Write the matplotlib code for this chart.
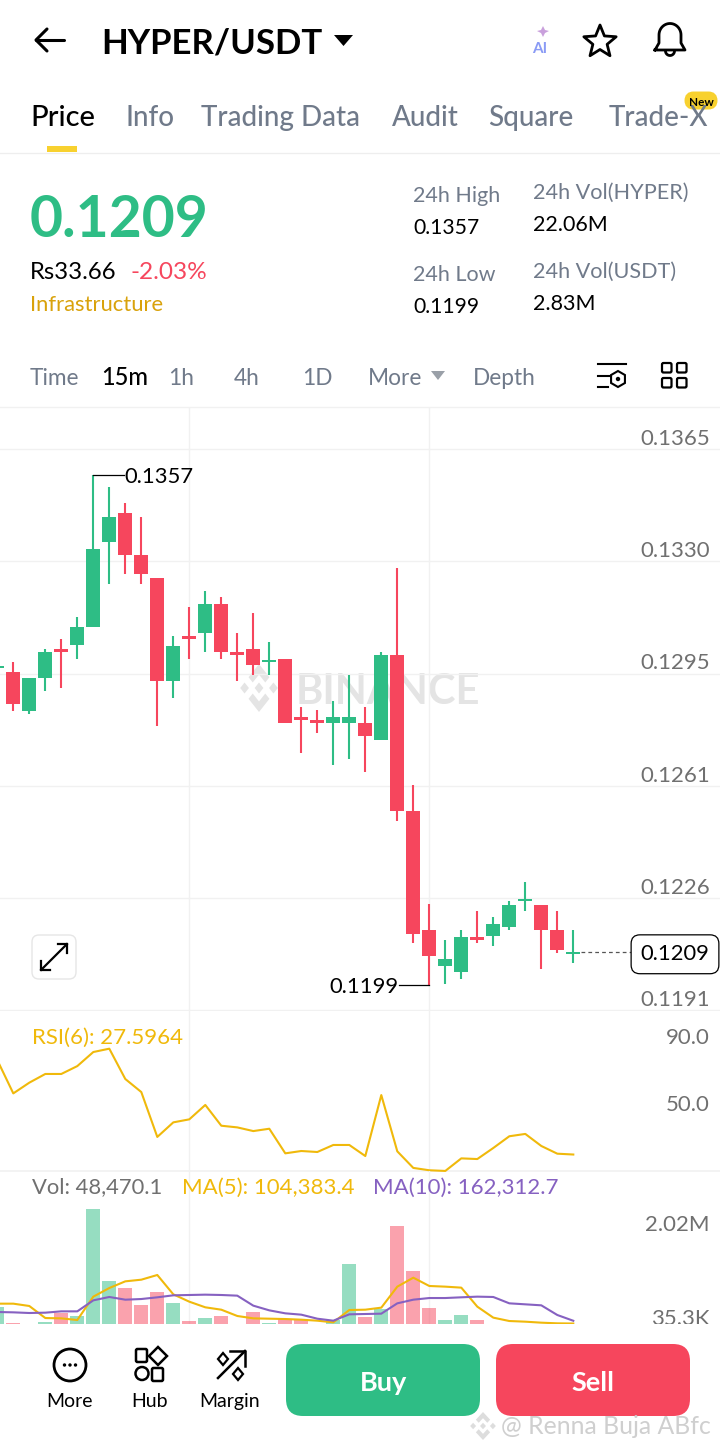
"""Rebuild of a HYPER/USDT mobile trading screen: candles, RSI and volume panels."""

import numpy as np
import matplotlib
matplotlib.use("Agg")
import matplotlib.pyplot as plt
from matplotlib.patches import Circle, FancyBboxPatch, Polygon, Rectangle

plt.rcParams["font.family"] = ["Lato", "DejaVu Sans"]

GREEN = "#2EBD85"
RED = "#F6465D"
YELLOW = "#F0B90B"
PURPLE = "#8661C1"
GRAY = "#707070"
TAB_GRAY = "#707A8A"
GRID = "#F1F1F1"

# candles, 15m
opens = [0.12971, 0.12959, 0.12839, 0.12940, 0.13030, 0.13041, 0.13099, 0.13361, 0.13450,
         0.13321, 0.13250, 0.12930, 0.13071, 0.13081, 0.13170, 0.13020, 0.13030, 0.12991,
         0.13000, 0.12820, 0.12810, 0.12800, 0.12800, 0.12800, 0.12749, 0.13011, 0.12529,
         0.12159, 0.12049, 0.12028, 0.12138, 0.12139, 0.12169, 0.12248, 0.12238, 0.12159,
         0.12086]
highs = [0.12984, 0.12990, 0.12940, 0.13031, 0.13060, 0.13130, 0.13570, 0.13531, 0.13482,
         0.13440, 0.13250, 0.13071, 0.13160, 0.13210, 0.13190, 0.13080, 0.13141, 0.13051,
         0.13000, 0.12851, 0.12840, 0.12870, 0.12950, 0.12851, 0.13020, 0.13280, 0.12609,
         0.12239, 0.12128, 0.12159, 0.12218, 0.12199, 0.12248, 0.12308, 0.12238, 0.12218,
         0.12159]
lows = [0.12965, 0.12839, 0.12829, 0.12900, 0.12910, 0.13000, 0.13099, 0.13231, 0.13261,
        0.13231, 0.12791, 0.12879, 0.13000, 0.13020, 0.13000, 0.12930, 0.12950, 0.12950,
        0.12800, 0.12709, 0.12769, 0.12669, 0.12689, 0.12649, 0.12749, 0.12498, 0.12118,
        0.11990, 0.11992, 0.12008, 0.12118, 0.12108, 0.12159, 0.12218, 0.12038, 0.12088,
        0.12058]
closes = [0.12978, 0.12860, 0.12940, 0.13020, 0.13020, 0.13099, 0.13340, 0.13440, 0.13321,
          0.13261, 0.12930, 0.13040, 0.13060, 0.13170, 0.13020, 0.13010, 0.12980, 0.12996,
          0.12800, 0.12810, 0.12800, 0.12820, 0.12820, 0.12760, 0.13011, 0.12529, 0.12148,
          0.12079, 0.12069, 0.12138, 0.12128, 0.12178, 0.12238, 0.12255, 0.12159, 0.12098,
          0.12090]
price_ticks = [0.13650, 0.13302, 0.12954, 0.12606, 0.12258, 0.11910]
price_labels = ["0.1365", "0.1330", "0.1295", "0.1261", "0.1226", "0.1191"]

rsi6 = [84.0, 64.1, 70.5, 75.7, 75.7, 80.4, 88.8, 90.8, 72.7, 64.9, 38.1, 46.8, 48.6, 57.2,
        44.8, 43.8, 41.6, 43.0, 28.3, 29.7, 29.1, 33.3, 33.3, 26.7, 63.1, 29.5, 19.6, 18.2,
        17.8, 25.3, 24.9, 31.5, 38.5, 39.9, 32.7, 28.1, 27.6]
rsi_ticks = [90.0, 50.0]

# volume in thousands
volume = [446, 122, 70, 129, 319, 263, 2520, 994, 853, 495, 769, 537, 150, 220, 263, 90, 347,
          108, 206, 178, 80, 178, 1353, 234, 410, 2155, 1212, 431, 171, 284, 171, 60, 70, 50,
          65, 55, 48.5]
ma5 = [523, 523, 474, 220, 213, 178, 671, 853, 994, 1029, 1128, 720, 565, 446, 396, 263, 213,
       206, 199, 185, 164, 129, 389, 396, 439, 882, 1071, 896, 882, 861, 460, 228, 157, 143,
       122, 108, 104.4]
ma10 = [347, 340, 326, 333, 361, 361, 593, 664, 607, 621, 657, 699, 706, 713, 706, 692, 481,
        382, 319, 291, 206, 164, 298, 305, 312, 530, 607, 642, 642, 657, 671, 664, 530, 509,
        488, 284, 162.3]
vol_ticks = [2020, 35.3]
vol_labels = ["2.02M", "35.3K"]

tabs = [("Price", 30), ("Info", 125), ("Trading Data", 201), ("Audit", 392), ("Square", 488), ("Trade-X", 609)]
intervals = [("Time", 30), ("1h", 168), ("4h", 234), ("1D", 302), ("More", 368), ("Depth", 473)]

W, H = 720, 1450
fig = plt.figure(figsize=(W / 100, H / 100), dpi=100, facecolor="white")


def panel(top, bottom, zorder=1):
    ax = fig.add_axes([0, 1 - bottom / H, 1, (bottom - top) / H], zorder=zorder)
    ax.patch.set_visible(False)
    for s in ax.spines.values():
        s.set_visible(False)
    return ax


def overlay(zorder):
    ax = panel(0, H, zorder=zorder)
    ax.set_xlim(0, W)
    ax.set_ylim(H, 0)
    ax.axis("off")
    return ax


def px_to_idx(x):
    return (x + 2.7) / 16


def txt(ax, x, y, s, size=16, color="black", weight="normal", ha="left", **kw):
    return ax.text(x, y, s, fontsize=size, color=color, fontweight=weight, ha=ha,
                   va="center_baseline", **kw)


def logo(ax, cx, cy, sx, sy, color):
    top = [(0, -1), (0.55, -0.45), (0.33, -0.23), (0, -0.56), (-0.33, -0.23), (-0.55, -0.45)]
    for sign in (1, -1):
        ax.add_patch(Polygon([(cx + a * sx, cy + sign * b * sy) for a, b in top], fc=color, ec="none"))
    for dx in (-0.76, 0, 0.76):
        r = 0.23
        ax.add_patch(Polygon([(cx + (dx - r) * sx, cy), (cx + dx * sx, cy - r * sy),
                              (cx + (dx + r) * sx, cy), (cx + dx * sx, cy + r * sy)], fc=color, ec="none"))


ui = overlay(0)

# header
ui.plot([36, 64], [40, 40], color="black", lw=2.2, solid_capstyle="round")
ui.plot([47, 36, 47], [29, 40, 51], color="black", lw=2.2, solid_capstyle="round", solid_joinstyle="round")
txt(ui, 101.5, 40, "HYPER/USDT", size=25, weight="bold")
ui.add_patch(Polygon([(334, 35), (353, 35), (343.5, 46)], fc="black", ec="none"))

ui.add_patch(Polygon([(543, 26), (545, 30), (549, 31), (545, 33), (543, 37), (541, 33), (537, 31), (541, 30)],
                     fc="#C9A0DC", ec="none"))
txt(ui, 540, 47, "AI", size=11, color="#8A9BF5", weight="bold", ha="center")

angles = np.deg2rad(np.arange(-90, 270, 36))
radii = np.array([17, 7.5] * 5)
ui.add_patch(Polygon(np.column_stack([600 + radii * np.cos(angles), 42 + radii * np.sin(angles)]),
                     fc="white", ec="black", lw=2, joinstyle="round"))

bell_t = np.linspace(np.pi, 0, 30)
bell_x = np.r_[655, 659, 659 + 11 * np.cos(bell_t) + 11, 681, 685, 655]
bell_y = np.r_[50, 43, 35 + 11.5 * np.sin(bell_t) * -1, 43, 50, 50]
ui.plot(bell_x, bell_y, color="black", lw=2, solid_joinstyle="round")
ui.plot(670 + 4.5 * np.cos(bell_t), 51 + 4.5 * np.sin(bell_t), color="black", lw=2)

# tabs
for i, (name, x) in enumerate(tabs):
    txt(ui, x, 115, name, size=21 if i == 0 else 20, color="black" if i == 0 else TAB_GRAY, weight="medium")
ui.add_patch(Rectangle((47, 146), 30, 6, fc="#F8D12F", ec="none"))
ui.plot([0, W], [153, 153], color="#EEEEEE", lw=0.9)
ui.add_patch(FancyBboxPatch((688, 95), 26, 11, boxstyle="round,pad=0,rounding_size=5.5", mutation_aspect=1,
                            fc="#F8D12F", ec="#F8D12F", lw=5))
txt(ui, 701, 101, "New", size=8.5, weight="bold", ha="center")

# price block
txt(ui, 29.5, 215, "0.1209", size=41, color=GREEN, weight="bold")
txt(ui, 30, 270, "Rs33.66", size=17.2)
txt(ui, 130, 270, "-2.03%", size=17.6, color=RED)
txt(ui, 30, 303, "Infrastructure", size=15.8, color="#D9A20B")
txt(ui, 413, 194, "24h High", size=15.5, color=TAB_GRAY)
txt(ui, 413, 226, "0.1357", size=15.2)
txt(ui, 413, 273, "24h Low", size=15.5, color=TAB_GRAY)
txt(ui, 413, 305, "0.1199", size=15.2)
txt(ui, 533, 191, "24h Vol(HYPER)", size=15.6, color=TAB_GRAY)
txt(ui, 533, 223, "22.06M", size=15.5)
txt(ui, 533, 270, "24h Vol(USDT)", size=15.6, color=TAB_GRAY)
txt(ui, 533, 302, "2.83M", size=15.5)

# interval row
for name, x in intervals:
    txt(ui, x, 376, name, size=16.3, color=TAB_GRAY)
txt(ui, 101, 375, "15m", size=17, weight="medium")
ui.add_patch(Polygon([(431, 371), (445, 371), (438, 380)], fc="#9AA0A8", ec="none"))
ui.plot([598, 626], [364, 364], color="black", lw=1.5)
ui.plot([598, 610], [376, 376], color="black", lw=1.5)
ui.plot([598, 608], [387, 387], color="black", lw=1.5)
hex_t = np.deg2rad(np.arange(30, 390, 60))
ui.add_patch(Polygon(np.column_stack([618 + 8 * np.cos(hex_t), 379 + 8 * np.sin(hex_t)]), fc="white", ec="black", lw=1.5))
ui.add_patch(Circle((618, 379), 2.2, fc="black", ec="none"))
for gx in (662, 677):
    for gy in (363, 378):
        ui.add_patch(FancyBboxPatch((gx, gy), 9.5, 9.5, boxstyle="round,pad=0,rounding_size=1.5", fc="white", ec="black", lw=1.6))
ui.plot([0, W], [406.5, 406.5], color=GRID, lw=1)

# watermark and panel dividers
logo(ui, 259, 688, 19, 24, "#E4E4E4")
txt(ui, 296, 688, "BINANCE", size=30, color="#E4E4E4", weight="bold")
ui.plot([0, W], [1171, 1171], color=GRID, lw=1.2)

# candle panel
x = np.arange(len(opens))
opens, highs, lows, closes = map(np.array, (opens, highs, lows, closes))
up = closes >= opens
colors = np.where(up, GREEN, RED)

ax = panel(407, 1011)
ax.set_xlim(px_to_idx(0), px_to_idx(W))
ax.set_ylim(0.11908, 0.13780)
ax.set_xticks([12, 27])
ax.set_yticks(price_ticks)
ax.tick_params(length=0, labelleft=False, labelbottom=False)
ax.grid(True, color=GRID, lw=1)
ax.set_axisbelow(True)
ax.vlines(x, lows, highs, colors=colors, lw=1.5, zorder=2)
ax.bar(x, np.abs(closes - opens), bottom=np.minimum(opens, closes), width=0.875, color=colors, zorder=3)
for p, label in zip(price_ticks, price_labels):
    ax.annotate(label, (1, p), xycoords=ax.get_yaxis_transform(), xytext=(-7.2, 8.8),
                textcoords="offset points", ha="right", va="center_baseline", fontsize=16, color=GRAY, zorder=5)

hi_i = int(np.argmax(highs))
lo_i = int(np.argmin(lows))
ax.plot([hi_i, px_to_idx(124)], [highs[hi_i]] * 2, color="black", lw=0.9, zorder=4)
ax.text(px_to_idx(124), highs[hi_i], "0.1357", fontsize=15.8, va="center_baseline", zorder=5)
ax.plot([lo_i, px_to_idx(399)], [lows[lo_i]] * 2, color="black", lw=0.9, zorder=4)
ax.text(px_to_idx(399), lows[lo_i], "0.1199", fontsize=15.8, ha="right", va="center_baseline", zorder=5)

ax.plot([px_to_idx(581), px_to_idx(631)], [closes[-1]] * 2, color="#555555", lw=0.9, ls=(0, (3, 2.5)), zorder=4)
ax.text(px_to_idx(675), closes[-1], "0.1209", fontsize=15.8, ha="center", va="center_baseline", zorder=6,
        bbox=dict(boxstyle="round,pad=0.43,rounding_size=0.4", fc="white", ec="black", lw=0.9))

ui_top = overlay(2)
ui_top.add_patch(FancyBboxPatch((32, 935), 44, 44, boxstyle="round,pad=0,rounding_size=7", fc="white", ec="#E6E6E6", lw=1))
ui_top.plot([41, 67], [970, 944], color="black", lw=1.6)
ui_top.plot([58, 67, 67], [944, 944, 953], color="black", lw=1.6)
ui_top.plot([41, 41, 50], [961, 970, 970], color="black", lw=1.6)

# RSI panel
ax_rsi = panel(1011, 1171)
ax_rsi.set_xlim(px_to_idx(0), px_to_idx(W))
ax_rsi.set_ylim(17.76, 113.3)
ax_rsi.set_xticks([12, 27])
ax_rsi.set_yticks([])
ax_rsi.tick_params(length=0, labelbottom=False)
ax_rsi.grid(True, axis="x", color=GRID, lw=1)
ax_rsi.plot(x, rsi6, color=YELLOW, lw=1.5, clip_on=False)
for v in rsi_ticks:
    ax_rsi.annotate(f"{v:.1f}", (1, v), xycoords=ax_rsi.get_yaxis_transform(), xytext=(-7.2, 10),
                    textcoords="offset points", ha="right", va="center_baseline", fontsize=16, color=GRAY)
ax_rsi.text(32 / W, 1 - 25 / 160, "RSI(6): 27.5964", transform=ax_rsi.transAxes, fontsize=16, color=YELLOW, va="center_baseline")

# volume panel
ax_vol = panel(1171, 1324)
ax_vol.set_xlim(px_to_idx(0), px_to_idx(W))
ax_vol.set_ylim(94, 3322)
ax_vol.set_xticks([12, 27])
ax_vol.set_yticks([])
ax_vol.tick_params(length=0, labelbottom=False)
ax_vol.grid(True, axis="x", color=GRID, lw=1)
ax_vol.set_axisbelow(True)
ax_vol.bar(x, volume, width=0.875, color=colors, alpha=0.5, zorder=2)
ax_vol.plot(x, ma5, color=YELLOW, lw=1.5, zorder=3)
ax_vol.plot(x, ma10, color=PURPLE, lw=1.5, zorder=3)
for v, label in zip(vol_ticks, vol_labels):
    ax_vol.annotate(label, (1, v), xycoords=ax_vol.get_yaxis_transform(), xytext=(-7.2, 7),
                    textcoords="offset points", ha="right", va="center_baseline", fontsize=16, color=GRAY)
txt(ui_top, 32, 1185.5, "Vol: 48,470.1", size=15.8, color=GRAY)
txt(ui_top, 182, 1185.5, "MA(5): 104,383.4", size=16, color=YELLOW)
txt(ui_top, 373, 1185.5, "MA(10): 162,312.7", size=16, color=PURPLE)

# bottom bar
ui_top.add_patch(Rectangle((0, 1324), W, 126, fc="white", ec="none"))
ui_top.add_patch(Circle((70, 1365), 16, fc="white", ec="black", lw=2))
for dx in (-5.5, 0, 5.5):
    ui_top.add_patch(Circle((70 + dx, 1365), 1.7, fc="black", ec="none"))
txt(ui_top, 70, 1400, "More", size=14, ha="center")
for bx, by in ((136, 1349), (152, 1368)):
    ui_top.add_patch(FancyBboxPatch((bx, by), 11, 13, boxstyle="round,pad=0,rounding_size=1.5", fc="white", ec="black", lw=1.8))
ui_top.add_patch(Circle((142, 1373.5), 6.5, fc="white", ec="black", lw=1.8))
ui_top.add_patch(Polygon([(158, 1347), (167, 1356), (158, 1365), (149, 1356)], fc="white", ec="black", lw=1.8))
txt(ui_top, 150, 1400, "Hub", size=14, ha="center")
ui_top.plot([218, 245], [1378, 1351], color="black", lw=1.8)
ui_top.plot([230, 245, 245], [1351, 1351, 1366], color="black", lw=1.8)
ui_top.add_patch(Polygon([(223, 1353), (228, 1359), (223, 1365), (218, 1359)], fc="white", ec="black", lw=1.6))
ui_top.add_patch(Polygon([(238, 1368), (243, 1374), (238, 1380), (233, 1374)], fc="white", ec="black", lw=1.6))
txt(ui_top, 230, 1400, "Margin", size=14, ha="center")

for bx, color, label in ((286, GREEN, "Buy"), (496, RED, "Sell")):
    ui_top.add_patch(FancyBboxPatch((bx, 1344), 194, 72, boxstyle="round,pad=0,rounding_size=17", fc=color, ec="none"))
    txt(ui_top, bx + 97, 1381, label, size=19.5, color="white", weight="bold", ha="center")

logo(ui_top, 483, 1426, 13, 14, "#DDDDDD")
txt(ui_top, 501, 1424, "@ Renna Buja ABfc", size=17.8, color="#CFCFCF")

fig.savefig("out.png", dpi=100, facecolor="white")
